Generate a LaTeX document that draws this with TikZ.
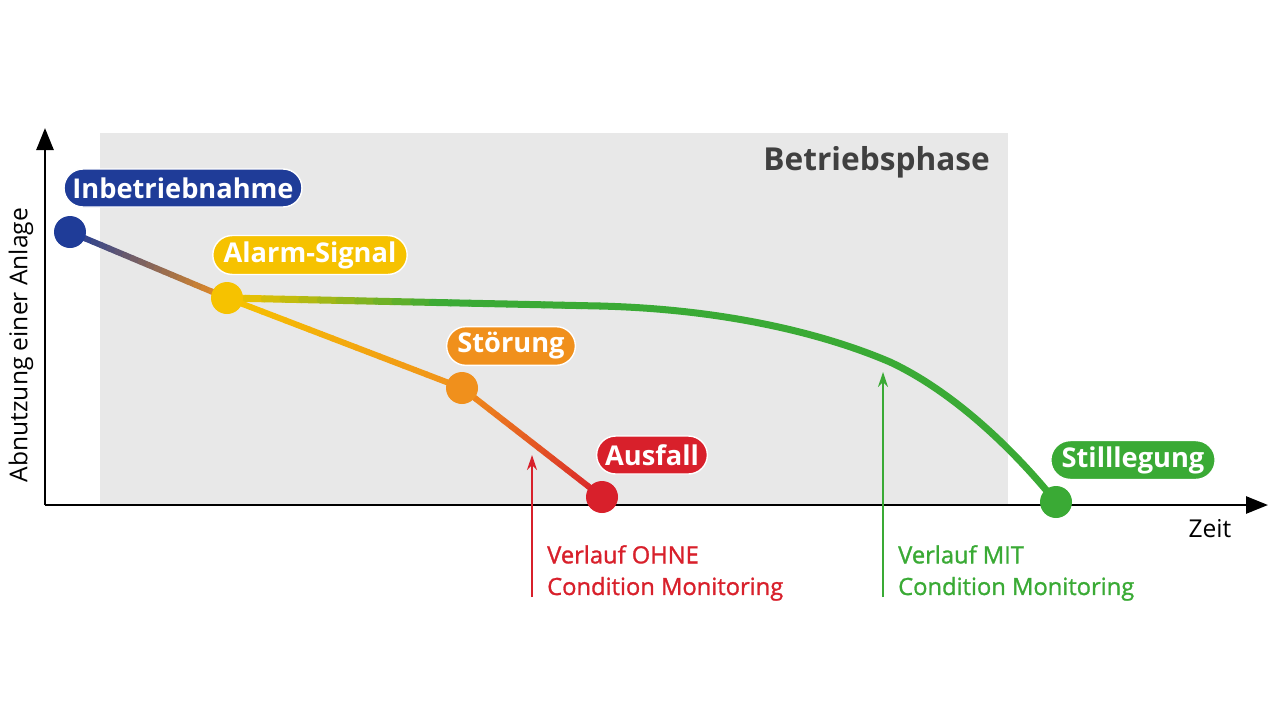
\documentclass[tikz,border=0pt]{standalone}
\usepackage{fontspec}
\setmainfont{Open Sans}
\newfontface\medium{Open Sans}[FakeBold=1.2]
\usetikzlibrary{positioning, calc, arrows.meta, shapes.misc}
\definecolor{cInb}{HTML}{1F3C98}
\definecolor{cAlarm}{HTML}{F6C200}
\definecolor{cStoer}{HTML}{F0901C}
\definecolor{cAusfall}{HTML}{D8202B}
\definecolor{cStill}{HTML}{3AAA35}
\definecolor{cPhase}{HTML}{E8E8E8}
\tikzset{
x=0.02cm, y=-0.02cm, % one unit = one pixel of the sketch
axis/.style={line width=1.5pt, -{Triangle[length=0.44cm,width=0.34cm]}},
wear/.style={line width=0.12cm, line cap=round},
dot/.style={circle, fill=#1, minimum size=0.64cm, inner sep=0pt},
pill/.style={rounded rectangle, fill=#1, draw=white, line width=0.8pt, text=white,
  font=\fontsize{15.5}{18}\selectfont\bfseries, minimum height=0.76cm, inner xsep=3pt},
hint/.style={line width=1pt, -{Stealth[length=0.3cm,width=0.2cm]}},
hinttext/.style={anchor=north west, align=left, font=\fontsize{13.5}{18}\selectfont\medium},
}

\begin{document}
\begin{tikzpicture}
    \useasboundingbox (0,0) rectangle (1280,721);
    % Betriebsphase
    \fill[cPhase] (100,133) rectangle (1008,505);
    \node[anchor=east, text=black!75, font=\fontsize{18}{21}\selectfont\bfseries] (phase) at (996,162) {Betriebsphase};
    % axes
    \coordinate (o) at (45,505);
    \coordinate (ytip) at (45,128);
    \coordinate (xtip) at (1268,505);
    \draw[axis] (o) -- (ytip);
    \draw[axis] (o) -- (xtip);
    \node[rotate=90, font=\fontsize{14}{17}\selectfont] (ylab) at (21,345) {Abnutzung einer Anlage};
    \node[font=\fontsize{14}{17}\selectfont] (xlab) at (1210,529) {Zeit};
    % milestones
    \coordinate (inb) at (70,232);
    \coordinate (alarm) at (227,298);
    \coordinate (stoer) at (462,388);
    \coordinate (ausfall) at (602,497);
    \coordinate (still) at (1056,502);
    \coordinate (flat) at (600,306);
    % wear without monitoring
    \foreach \i in {0,...,19} {
      \pgfmathsetmacro\p{100-5*\i}
      \draw[wear, color=cInb!\p!cStoer] ($(inb)!\i/20!(alarm)$) -- ($(inb)!\i/20+0.05!(alarm)$);
      \draw[wear, color=cAlarm!\p!cStoer] ($(alarm)!\i/20!(stoer)$) -- ($(alarm)!\i/20+0.05!(stoer)$);
      \draw[wear, color=cStoer!\p!cAusfall] ($(stoer)!\i/20!(ausfall)$) -- ($(stoer)!\i/20+0.05!(ausfall)$);
    }
    % wear with monitoring
    \foreach \i in {0,...,19} {
      \pgfmathsetmacro\p{min(100,9*\i)}
      \draw[wear, line width=0.14cm, color=cStill!\p!cAlarm] ($(alarm)!\i/20!(flat)$) -- ($(alarm)!\i/20+0.05!(flat)$);
    }
    \draw[wear, line width=0.14cm, cStill] (flat) .. controls (720,309) and (820,332) .. (890,362)
      .. controls (950,390) and (1010,445) .. (still);
    % dots
    \node[dot=cInb] (inbD) at (inb) {};
    \node[dot=cAlarm] (alarmD) at (alarm) {};
    \node[dot=cStoer] (stoerD) at (stoer) {};
    \node[dot=cAusfall] (ausfallD) at (ausfall) {};
    \node[dot=cStill] (stillD) at (still) {};
    % labels
    \node[pill=cInb] (inbL) at (183,188) {Inbetriebnahme};
    \node[pill=cAlarm] (alarmL) at (310,255) {Alarm-Signal};
    \node[pill=cStoer] (stoerL) at (511,346) {Störung};
    \node[pill=cAusfall] (ausfallL) at (652,455) {Ausfall};
    \node[pill=cStill] (stillL) at (1133,460) {Stilllegung};
    % hints
    \coordinate (ohneA) at (532,455);
    \coordinate (ohneB) at (532,597);
    \coordinate (mitA) at (883,372);
    \coordinate (mitB) at (883,597);
    \draw[hint, cAusfall] (ohneB) -- (ohneA);
    \draw[hint, cStill] (mitB) -- (mitA);
    \node[hinttext, text=cAusfall] (ohne) at (541,539) {Verlauf OHNE\\Condition Monitoring};
    \node[hinttext, text=cStill] (mit) at (892,539) {Verlauf MIT\\Condition Monitoring};
  \end{tikzpicture}
\end{document}
